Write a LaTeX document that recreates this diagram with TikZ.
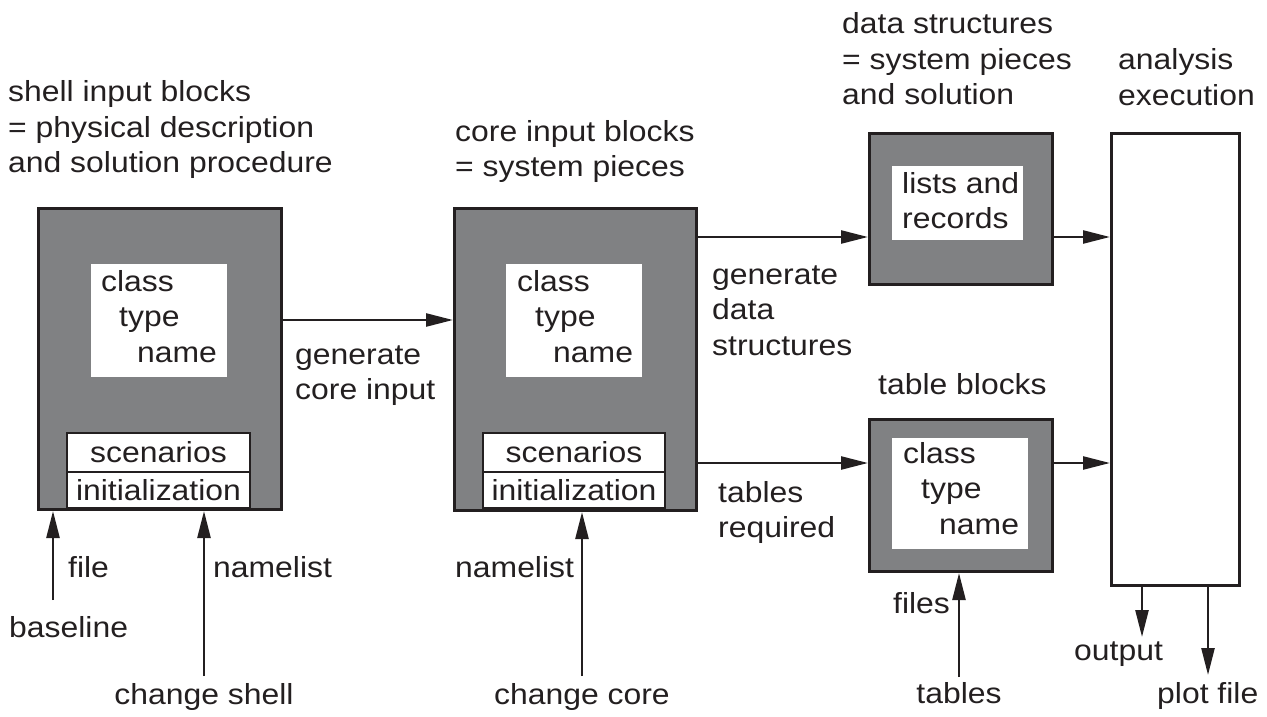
\documentclass[tikz,border=0pt]{standalone}
\usepackage{fontspec}
\setmainfont{Liberation Sans}[FakeStretch=1.1]
\usetikzlibrary{arrows.meta}
\definecolor{boxgray}{RGB}{128,129,131}
\definecolor{ink}{RGB}{35,31,32}
% stacked, left-aligned lines whose baseline is the first line's
\newcommand\txtlines[1]{\begin{tabular}[t]{@{}l@{}}#1\end{tabular}}
% class / type / name staircase
\newcommand\ctn{\txtlines{class\\\hspace*{18pt}type\\\hspace*{36pt}name}}
\begin{document}
\begin{tikzpicture}[x=1pt,y=-1pt,
  every node/.style={font=\fontsize{29}{35.5}\selectfont, inner sep=0pt, text=ink},
  graybox/.style={draw=ink, line width=3pt, fill=boxgray, anchor=north west},
  whitebox/.style={fill=white, anchor=north west},
  cellbox/.style={draw=ink, line width=2.5pt, fill=white},
  plainbox/.style={draw=ink, line width=3pt, fill=white, anchor=north west},
  arr/.style={draw=ink, line width=2.5pt, -{Triangle[length=27pt,width=13pt]}},
  lbl/.style={anchor=base west},
  clbl/.style={anchor=base},
]
\useasboundingbox (0,0) rectangle (1267,717);

% main blocks
\node[graybox, minimum width=243pt, minimum height=301pt] (shell) at (37,207) {};
\node[graybox, minimum width=242pt, minimum height=302pt] (core) at (453,207) {};
\node[graybox, minimum width=183pt, minimum height=151pt] (data) at (868,132) {};
\node[graybox, minimum width=183pt, minimum height=152pt] (table) at (868,418) {};
\node[plainbox, minimum width=128pt, minimum height=452pt] (anal) at (1110,132) {};

% white panels inside the blocks
\node[whitebox, minimum width=136pt, minimum height=113pt] (shellin) at (91,264) {};
\node[whitebox, minimum width=136pt, minimum height=113pt] (corein) at (506,264) {};
\node[whitebox, minimum width=131pt, minimum height=74pt] (datain) at (892,166) {};
\node[whitebox, minimum width=136pt, minimum height=111pt] (tablein) at (892,438) {};

\node[lbl] (shellctn) at (101,291) {\ctn};
\node[lbl] (corectn) at (517,291) {\ctn};
\node[lbl] (tablectn) at (903,463) {\ctn};
\node[lbl] (lists) at (902,193) {\txtlines{lists and\\records}};

% scenario / initialization cells
\node[cellbox, minimum width=183pt, minimum height=39pt] (shellscen) at (158.5,452.5) {scenarios};
\node[cellbox, minimum width=183pt, minimum height=36pt] (shellinit) at (158.5,490) {initialization};
\node[cellbox, minimum width=182pt, minimum height=39pt] (corescen) at (574,452.5) {scenarios};
\node[cellbox, minimum width=182pt, minimum height=36pt] (coreinit) at (574,490) {initialization};

% headings
\node[lbl] (shellhead) at (8,102) {\txtlines{shell input blocks\\= physical description\\and solution procedure}};
\node[lbl] (corehead) at (455,141) {\txtlines{core input blocks\\= system pieces}};
\node[lbl] (datahead) at (842,34) {\txtlines{data structures\\= system pieces\\and solution}};
\node[lbl] (analhead) at (1118,70) {\txtlines{analysis\\execution}};
\node[lbl] (tablehead) at (878,394) {table blocks};

% flow labels
\node[lbl] (gencore) at (295,364) {\txtlines{generate\\core input}};
\node[lbl] (gendata) at (712,284) {\txtlines{generate\\data\\structures}};
\node[lbl] (tabreq) at (718,502) {\txtlines{tables\\required}};
\node[lbl] (filelbl) at (68,577) {file};
\node[lbl] (nl1) at (213,577) {namelist};
\node[lbl] (baselbl) at (9,637) {baseline};
\node[clbl] (chshell) at (204,704) {change shell};
\node[lbl] (nl2) at (455,577) {namelist};
\node[clbl] (chcore) at (582,704) {change core};
\node[lbl] (fileslbl) at (893,613) {files};
\node[clbl] (tableslbl) at (959,703) {tables};
\node[lbl] (outlbl) at (1074,660) {output};
\node[lbl] (plotlbl) at (1157,703) {plot file};

% rows and free ends of the connectors
\coordinate (rowA) at (0,320);
\coordinate (rowB) at (0,237);
\coordinate (rowC) at (0,463);
\coordinate (fileStart) at (53,600);
\coordinate (nlStart) at (204,676);
\coordinate (coreStart) at (582,676);
\coordinate (tabStart) at (959,677);
\coordinate (outEnd) at (1142,637);
\coordinate (plotEnd) at (1208,675);

% connectors
\draw[arr] (shell.east |- rowA) -- (core.west |- rowA);
\draw[arr] (core.east |- rowB) -- (data.west |- rowB);
\draw[arr] (core.east |- rowC) -- (table.west |- rowC);
\draw[arr] (data.east |- rowB) -- (anal.west |- rowB);
\draw[arr] (table.east |- rowC) -- (anal.west |- rowC);
\draw[arr] (fileStart) -- (fileStart |- shell.south);
\draw[arr] (nlStart) -- (nlStart |- shell.south);
\draw[arr] (coreStart) -- (coreStart |- core.south);
\draw[arr] (tabStart) -- (tabStart |- table.south);
\draw[arr] (outEnd |- anal.south) -- (outEnd);
\draw[arr] (plotEnd |- anal.south) -- (plotEnd);
\end{tikzpicture}
\end{document}
